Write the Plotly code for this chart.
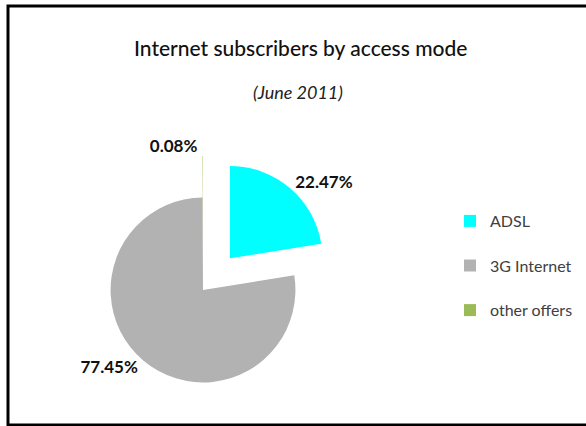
import plotly.graph_objects as go

labels = ["ADSL", "3G Internet", "other offers"]
values = [22.47, 77.45, 0.08]
colors = ["#00FFFF", "#B2B2B2", "#9BBB59"]
pulls = [0.45, 0.0, 0.45]

title = "Internet subscribers by access mode"
subtitle = "(June 2011)"

W, H = 586, 426
cx, cy, half = 203, 290, 134  # pie centre / half size in pixels
FONT = "Lato, Roboto, sans-serif"

fig = go.Figure(go.Pie(
    labels=[l + "<br> " for l in labels],
    values=values,
    sort=False,
    direction="clockwise",
    rotation=0,
    pull=pulls,
    marker=dict(colors=colors, line=dict(width=0)),
    texttemplate="%{value:.2f}%",
    textposition="outside",
    textfont=dict(family=FONT, size=17, color="#111111", weight="bold"),
    hoverinfo="label+percent",
    domain=dict(x=[(cx - half) / W, (cx + half) / W], y=[1 - (cy + half) / H, 1 - (cy - half) / H]),
))

fig.add_annotation(text=title, x=300 / W, y=1 - 48 / H, xref="paper", yref="paper",
                   showarrow=False, xanchor="center", yanchor="middle",
                   font=dict(family=FONT, size=21, color="#111111", weight=500))
fig.add_annotation(text="<i>" + subtitle + "</i>", x=298 / W, y=1 - 92 / H, xref="paper", yref="paper",
                   showarrow=False, xanchor="center", yanchor="middle",
                   font=dict(family=FONT, size=18, color="#222222"))

fig.add_shape(type="rect", xref="paper", yref="paper",
              x0=8 / W, x1=1.02, y0=1 - 425 / H, y1=1 - 6 / H,
              line=dict(color="#000000", width=3), fillcolor="rgba(0,0,0,0)")

fig.update_layout(
    width=W, height=H,
    margin=dict(l=0, r=0, t=0, b=0, autoexpand=False),
    paper_bgcolor="white", plot_bgcolor="white",
    showlegend=True,
    legend=dict(x=450 / W, y=1 - 204 / H, xanchor="left", yanchor="top",
                valign="top",
                font=dict(family=FONT, size=16, color="#404040"),
                bgcolor="rgba(0,0,0,0)"),
)

fig.write_html("out.html", config={"displayModeBar": False},
               post_script="document.body.style.margin='0';")
